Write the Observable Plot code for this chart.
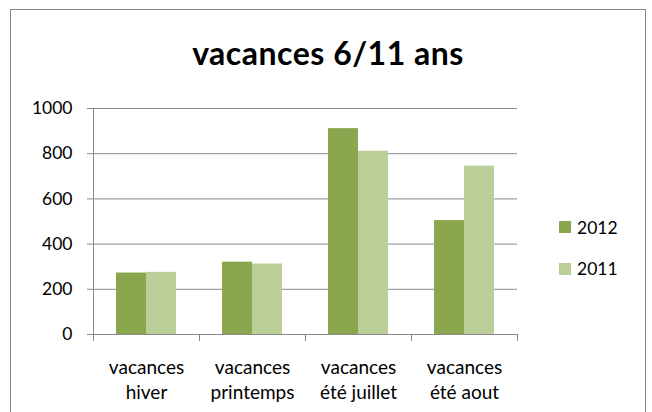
<!DOCTYPE html>
<html>
<head>
<meta charset="utf-8">
<script src="https://cdn.jsdelivr.net/npm/d3@7"></script>
<script src="https://cdn.jsdelivr.net/npm/@observablehq/plot@0.6"></script>
<style>
  html, body { margin: 0; padding: 0; background: #fff; }
  #wrap { position: relative; width: 652px; height: 412px; overflow: hidden; background: #fff; font-family: Lato, sans-serif; }
  #frame { position: absolute; left: 10px; top: 9px; width: 636px; height: 480px; border: 1px solid #8a8a8a; box-sizing: border-box; }
  #title { position: absolute; left: 0; width: 656px; top: 36.6px; text-align: center; font-weight: bold; font-size: 32px; letter-spacing: 0.5px; line-height: 1; color: #000; white-space: nowrap; }
  #chart { position: absolute; left: 0; top: 0; }
  .leg { position: absolute; left: 559px; font-size: 17.5px; line-height: 1; color: #000; white-space: nowrap; }
  .leg span.sw { position: absolute; left: 0; width: 12px; height: 12px; }
  .leg span.lb { position: absolute; left: 18px; top: 0; }
</style>
</head>
<body>
<div id="wrap">
  <div id="frame"></div>
  <div id="chart"></div>
  <div id="title"></div>
  <div id="legend"></div>
</div>
<script>
const titleText = "vacances 6/11 ans";
const categories = ["vacances hiver", "vacances printemps", "vacances été juillet", "vacances été aout"];
const series = ["2012", "2011"];
const values2012 = [272, 320, 911, 504];
const values2011 = [275, 312, 811, 745];
const yTicks = [0, 200, 400, 600, 800, 1000];
const colors = ["#8aa64f", "#bbce97"];

const table = [];
categories.forEach((c, i) => {
  table.push({cat: c, year: series[0], value: values2012[i]});
  table.push({cat: c, year: series[1], value: values2011[i]});
});

const W = 652, H = 412;
const mTop = 108, mBottom = 78, mLeft = 93, mRight = 135;
const plotH = H - mTop - mBottom;
const gray = "#8a8a8a";

const chart = Plot.plot({
  width: W,
  height: H,
  marginTop: mTop,
  marginBottom: mBottom,
  marginLeft: mLeft,
  marginRight: mRight,
  style: {fontFamily: "Lato, sans-serif", fontSize: "17.5px", color: "#000", background: "transparent", overflow: "visible"},
  fx: {domain: categories, paddingInner: 0, paddingOuter: 0},
  x: {domain: series, paddingInner: 0, paddingOuter: 0.74, axis: null},
  y: {domain: [0, 1000]},
  color: {domain: series, range: colors},
  marks: [
    Plot.gridY(yTicks, {stroke: gray, strokeOpacity: 1}),
    Plot.barY(table, {fx: "cat", x: "year", y: "value", fill: "year"}),
    Plot.frame({anchor: "left", facetAnchor: "left", stroke: gray, strokeOpacity: 1, insetBottom: -6}),
    Plot.frame({anchor: "right", stroke: gray, strokeOpacity: 1, insetTop: plotH, insetBottom: -6}),
    Plot.axisY(yTicks, {tickSize: 6, tickPadding: 15, stroke: gray, strokeOpacity: 1, fill: "#000", label: null, tickFormat: d => String(d)}),
    Plot.axisFx({anchor: "bottom", tickSize: 0, tickPadding: 21.5, fontSize: 19, lineHeight: 1.316, label: null, fill: "#000", tickFormat: d => d.replace(" ", "\n")})
  ]
});
document.getElementById("chart").appendChild(chart);

document.getElementById("title").textContent = titleText;

const legend = document.getElementById("legend");
const legTops = [218.5, 259.5];
const swTops = [221, 263];
series.forEach((s, i) => {
  const d = document.createElement("div");
  d.className = "leg";
  d.style.top = legTops[i] + "px";
  const sw = document.createElement("span");
  sw.className = "sw";
  sw.style.background = colors[i];
  sw.style.top = (swTops[i] - legTops[i]) + "px";
  const lb = document.createElement("span");
  lb.className = "lb";
  lb.textContent = s;
  d.appendChild(sw);
  d.appendChild(lb);
  legend.appendChild(d);
});
</script>
</body>
</html>
